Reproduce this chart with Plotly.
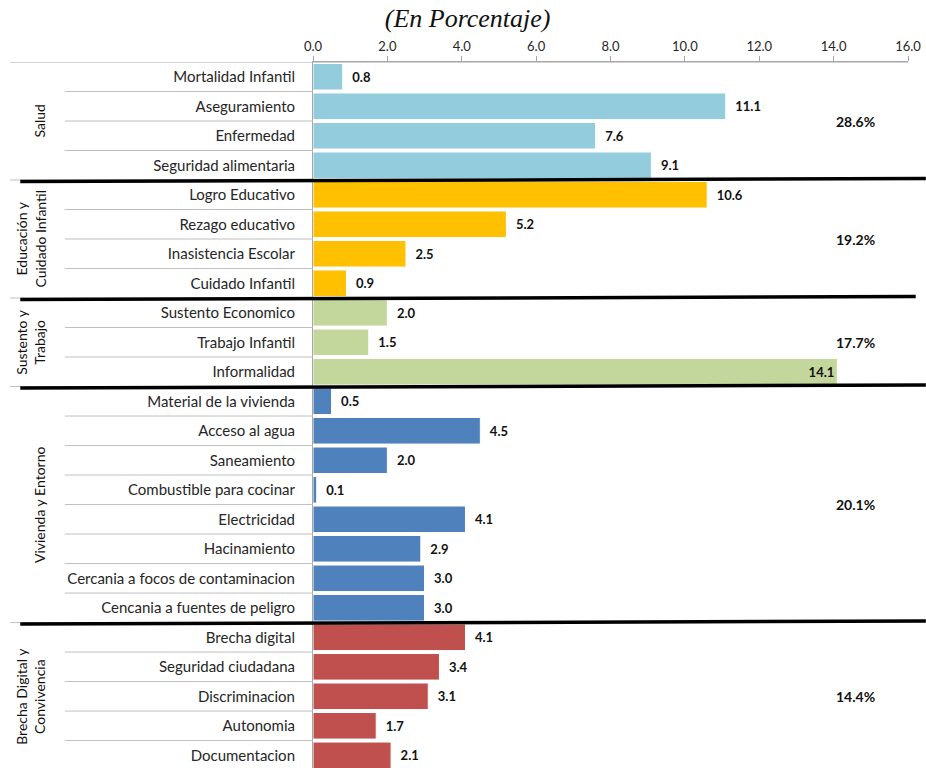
import plotly.graph_objects as go

# ---- data ----
groups = ["Salud", "Educación y<br>Cuidado Infantil", "Sustento y<br>Trabajo",
          "Vivienda y Entorno", "Brecha Digital y<br>Convivencia"]
group_totals = ["28.6%", "19.2%", "17.7%", "20.1%", "14.4%"]
group_colors = ["#93CDDD", "#FFC000", "#C3D69B", "#4F81BD", "#C0504D"]

salud_cats = ["Mortalidad Infantil", "Aseguramiento", "Enfermedad", "Seguridad alimentaria"]
salud_vals = [0.8, 11.1, 7.6, 9.1]
educ_cats = ["Logro Educativo", "Rezago educativo", "Inasistencia Escolar", "Cuidado Infantil"]
educ_vals = [10.6, 5.2, 2.5, 0.9]
trab_cats = ["Sustento Economico", "Trabajo Infantil", "Informalidad"]
trab_vals = [2.0, 1.5, 14.1]
viv_cats = ["Material de la vivienda", "Acceso al agua", "Saneamiento", "Combustible para cocinar",
            "Electricidad", "Hacinamiento", "Cercania a focos de contaminacion",
            "Cencania a fuentes de peligro"]
viv_vals = [0.5, 4.5, 2.0, 0.1, 4.1, 2.9, 3.0, 3.0]
brecha_cats = ["Brecha digital", "Seguridad ciudadana", "Discriminacion", "Autonomia", "Documentacion"]
brecha_vals = [4.1, 3.4, 3.1, 1.7, 2.1]

x_ticks = [0, 2, 4, 6, 8, 10, 12, 14, 16]

all_cats = [salud_cats, educ_cats, trab_cats, viv_cats, brecha_cats]
all_vals = [salud_vals, educ_vals, trab_vals, viv_vals, brecha_vals]

FONT = "Lato"
fig = go.Figure()

labels, positions = [], []
start = 0
bounds = []
for gi, (cats, vals) in enumerate(zip(all_cats, all_vals)):
    ys = list(range(start, start + len(cats)))
    tpos = ["inside" if v > 13 else "outside" for v in vals]
    fig.add_trace(go.Bar(
        x=vals, y=ys, orientation="h", width=0.9,
        marker=dict(color=group_colors[gi], line=dict(color="white", width=1)),
        text=[(f"{v:.1f}" if v > 13 else f"\u2002{v:.1f}") for v in vals], textposition=tpos,
        insidetextanchor="end",
        textfont=dict(family=FONT, size=13, color="#111111", weight="bold"),
        cliponaxis=False, showlegend=False, hoverinfo="x+y",
    ))
    labels += cats
    positions += ys
    bounds.append((start, start + len(cats) - 1))
    start += len(cats)

n = start
shapes = []
# thin separators in label area
for i in range(n):
    b = i + 0.5
    is_group = any(b == e + 0.5 for (_, e) in bounds)
    x0 = -0.509 if is_group else -0.417
    shapes.append(dict(type="line", xref="paper", yref="y", x0=x0, x1=0, y0=b, y1=b,
                       line=dict(color="#BFBFBF", width=1)))
# top axis line extended to the left
shapes.append(dict(type="line", xref="paper", yref="y", x0=-0.509, x1=1, y0=-0.5, y1=-0.5,
                   line=dict(color="#A6A6A6", width=1)))
# thick black group dividers
for gi, (_, e) in enumerate(bounds[:-1]):
    x1 = 1.03 if gi != 1 else 1.013
    shapes.append(dict(type="line", xref="paper", yref="y", x0=-0.492, x1=x1,
                       y0=e + 0.55, y1=e + 0.45, line=dict(color="black", width=3.5)))

annotations = []
for gi, (s, e) in enumerate(bounds):
    mid = (s + e) / 2
    annotations.append(dict(x=-0.442, xref="paper", xanchor="right", y=mid, yref="y",
                            text=groups[gi], textangle=-90, showarrow=False,
                            font=dict(family=FONT, size=14, color="#111111")))
    annotations.append(dict(x=14.6, xref="x", y=mid, yref="y", text=group_totals[gi],
                            showarrow=False,
                            font=dict(family=FONT, size=14, color="#111111", weight="bold")))

fig.update_layout(
    width=926, height=768,
    margin=dict(l=313, r=18, t=62, b=0, autoexpand=False),
    paper_bgcolor="white", plot_bgcolor="white",
    bargap=0.1,
    title=dict(text="<i>(En Porcentaje)</i>", xref="container", x=0.505, xanchor="center",
               yref="container", y=0.988, yanchor="top", pad=dict(t=0),
               font=dict(family="Liberation Serif", size=26, color="#111111")),
    xaxis=dict(side="top", range=[0, 16], tickvals=x_ticks,
               ticktext=[f"{t:.1f}" for t in x_ticks], automargin=False,
               showgrid=False, zeroline=False, showline=True, linecolor="#A6A6A6",
               ticks="outside", ticklen=5, tickcolor="#A6A6A6",
               tickfont=dict(family=FONT, size=13, color="#262626")),
    yaxis=dict(range=[23.43, -0.5], tickvals=positions, ticktext=labels, automargin=False,
               showgrid=False, zeroline=False, showline=True, linecolor="#A6A6A6",
               ticks="", ticklabelstandoff=14,
               tickfont=dict(family=FONT, size=15, color="#262626")),
    shapes=shapes, annotations=annotations,
)

fig.write_html(
    "out.html",
    config={"displayModeBar": False},
    post_script="document.body.style.margin='0';"
                "document.documentElement.style.overflow='hidden';"
                "document.body.style.overflow='hidden';",
)
